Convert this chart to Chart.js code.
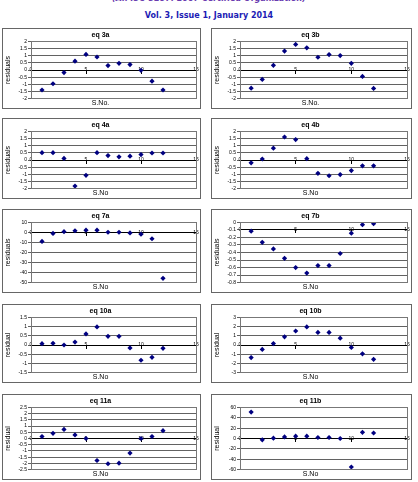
<!DOCTYPE html>
<html>
<head>
<meta charset="utf-8">
<script src="https://cdn.jsdelivr.net/npm/chart.js@4"></script>
<style>
  body { margin: 0; background: #fff; width: 418px; height: 482px; position: relative; overflow: hidden; }
  .hdr1 { position: absolute; top: -6px; left: 0; width: 418px; text-align: center; font: italic bold 8px "DejaVu Sans"; color: #6a3cb0; }
  .hdr2 { position: absolute; top: 11px; left: 0; width: 418px; text-align: center; font: bold 8px "DejaVu Sans"; color: #1c1cb4; }
  .panel { position: absolute; border: 1px solid #666; box-sizing: border-box; background: #fff; }
  .panel canvas { display: block; }
</style>
</head>
<body>
<div class="hdr1">(An ISO 3297: 2007 Certified Organization)</div>
<div class="hdr2">Vol. 3, Issue 1, January 2014</div>

<div class="panel" style="left:2px;top:28px;width:199px;height:81px"><canvas id="c3a"></canvas></div>
<div class="panel" style="left:211px;top:28px;width:201px;height:81px"><canvas id="c3b"></canvas></div>
<div class="panel" style="left:2px;top:118px;width:199px;height:81px"><canvas id="c4a"></canvas></div>
<div class="panel" style="left:211px;top:118px;width:201px;height:81px"><canvas id="c4b"></canvas></div>
<div class="panel" style="left:2px;top:209px;width:199px;height:84px"><canvas id="c7a"></canvas></div>
<div class="panel" style="left:211px;top:209px;width:201px;height:84px"><canvas id="c7b"></canvas></div>
<div class="panel" style="left:2px;top:304px;width:199px;height:79px"><canvas id="c10a"></canvas></div>
<div class="panel" style="left:211px;top:304px;width:201px;height:79px"><canvas id="c10b"></canvas></div>
<div class="panel" style="left:2px;top:394px;width:199px;height:86px"><canvas id="c11a"></canvas></div>
<div class="panel" style="left:211px;top:394px;width:201px;height:86px"><canvas id="c11b"></canvas></div>

<script>
//datos
const sNo = [1, 2, 3, 4, 5, 6, 7, 8, 9, 10, 11, 12];

const eq3a = [-1.4, -0.96, -0.18, 0.62, 1.09, 0.91, 0.31, 0.47, 0.38, -0.02, -0.78, -1.4];
const eq3b = [-1.27, -0.66, 0.33, 1.32, 1.79, 1.55, 0.89, 1.08, 1.01, 0.47, -0.45, -1.29];
const eq4a = [0.51, 0.51, 0.11, -1.82, -1.07, 0.51, 0.31, 0.22, 0.27, 0.38, 0.49, 0.49];
const eq4b = [-0.2, 0.07, 0.83, 1.61, 1.43, 0.09, -0.93, -1.1, -1.02, -0.74, -0.41, -0.41];
const eq7a = [-9, -1, 0.8, 1.7, 2.3, 2.3, 0.2, 0.2, -0.5, -1.7, -6.3, -45.7];
const eq7b = [-0.117, -0.265, -0.352, -0.478, -0.6, -0.674, -0.574, -0.574, -0.413, -0.143, -0.03, -0.017];
const eq10a = [0.07, 0.09, 0, 0.16, 0.6, 0.98, 0.47, 0.47, -0.16, -0.83, -0.67, -0.18];
const eq10b = [-1.37, -0.48, 0.15, 0.89, 1.52, 1.96, 1.37, 1.37, 0.74, -0.26, -0.96, -1.56];
const eq11a = [0.16, 0.42, 0.73, 0.29, 0, -1.77, -2.03, -1.98, -1.17, 0, 0.16, 0.63];
const eq11b = [51, -2.5, 0.6, 3, 4.4, 4.4, 1.9, 1.9, 0, -55, 12, 10.6];

// rango del eje y: [min, max, paso]
const range3 = [-2, 2, 0.5];
const range4 = [-2, 2, 0.5];
const range7a = [-50, 10, 10];
const range7b = [-0.8, 0, 0.1];
const range10a = [-1.5, 1.5, 0.5];
const range10b = [-3, 3, 1];
const range11a = [-2.5, 2.5, 0.5];
const range11b = [-60, 60, 20];

const xTicks = [0, 15, 5];

//borde del area del grafico
const frame = {
  id: "frame",
  afterDraw(chart) {
    const a = chart.chartArea;
    const ctx = chart.ctx;
    ctx.save();
    ctx.strokeStyle = "#777";
    ctx.lineWidth = 1;
    ctx.strokeRect(Math.round(a.left) + 0.5, Math.round(a.top) + 0.5, Math.round(a.right - a.left), Math.round(a.bottom - a.top));
    ctx.restore();
  }
};

//etiquetas sin ceros sobrantes
const cleanLabel = (v) => String(Math.round(v * 100) / 100);

const makeChart = (id, title, values, range, yTitle, xTitle, cross) => {
  new Chart(document.getElementById(id), {
    type: "scatter",
    data: {
      datasets: [{
        data: sNo.map((x, i) => ({ x: x, y: values[i] })),
        pointStyle: "rectRot",
        radius: 2.6,
        backgroundColor: "#000080",
        borderColor: "#000080",
        borderWidth: 0
      }]
    },
    options: {
      animation: false,
      responsive: true,
      maintainAspectRatio: false,
      layout: { padding: { left: 1, right: 3, top: 0, bottom: 0 } },
      plugins: {
        legend: { display: false },
        tooltip: { enabled: false },
        title: {
          display: true, text: title, color: "#000",
          font: { family: "Liberation Sans", size: 7, weight: "bold" },
          padding: { top: 2, bottom: 2 }
        },
        subtitle: {
          display: true, text: xTitle, position: "bottom", color: "#000",
          font: { family: "Liberation Sans", size: 7 },
          padding: { top: 0, bottom: 1 }
        }
      },
      scales: {
        x: {
          type: "linear",
          min: xTicks[0], max: xTicks[1],
          position: { y: cross },
          ticks: { stepSize: xTicks[2], color: "#000", font: { family: "Liberation Sans", size: 5 }, padding: -6, maxRotation: 0, autoSkip: false, callback: cleanLabel },
          grid: { drawOnChartArea: false, tickLength: 3, color: "#000" },
          border: { color: "#000" }
        },
        y: {
          min: range[0], max: range[1],
          ticks: { stepSize: range[2], color: "#000", font: { family: "Liberation Sans", size: 5, lineHeight: 1 }, padding: 1, autoSkip: false, callback: cleanLabel },
          grid: { color: "#3a3a3a", lineWidth: 0.8, tickLength: 3 },
          border: { color: "#000" },
          title: { display: true, text: yTitle, color: "#000", font: { family: "Liberation Sans", size: 7 }, padding: 0 },
          afterFit: (scale) => { scale.width = 27; }
        }
      }
    },
    plugins: [frame]
  });
};

makeChart("c3a", "eq 3a", eq3a, range3, "residuals", "S.No.", 0);
makeChart("c3b", "eq 3b", eq3b, range3, "residuals", "S.No.", 0);
makeChart("c4a", "eq 4a", eq4a, range4, "residuals", "S.No", 0);
makeChart("c4b", "eq 4b", eq4b, range4, "residuals", "S.No", 0);
makeChart("c7a", "eq 7a", eq7a, range7a, "residuals", "S.No", 0);
makeChart("c7b", "eq 7b", eq7b, range7b, "residuals", "S.No", -0.1);
makeChart("c10a", "eq 10a", eq10a, range10a, "residual", "S.No", 0);
makeChart("c10b", "eq 10b", eq10b, range10b, "residual", "S.No", 0);
makeChart("c11a", "eq 11a", eq11a, range11a, "residual", "S.No", 0);
makeChart("c11b", "eq 11b", eq11b, range11b, "residual", "S.No", 0);
</script>
</body>
</html>
